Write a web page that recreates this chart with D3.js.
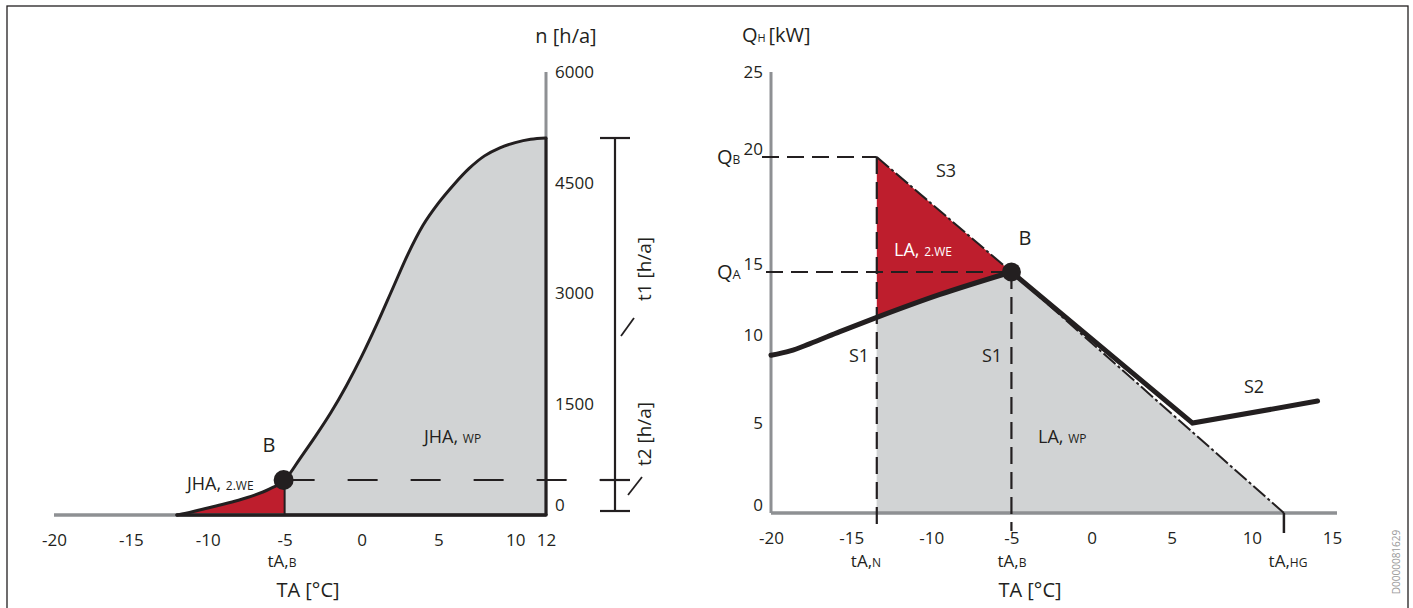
<!DOCTYPE html>
<html><head><meta charset="utf-8">
<script src="https://cdn.jsdelivr.net/npm/d3@7"></script>
<style>
html,body{margin:0;padding:0;background:#fff;}
svg{display:block;font-family:"Open Sans",sans-serif;}
</style></head><body>
<svg id="c" width="1413" height="608"></svg>
<script>
// ---------- data: left chart (annual hours curve) ----------
const hoursTicks = [0, 1500, 3000, 4500, 6000];
const tempTicksLeft = [-20, -15, -10, -5, 0, 5, 10, 12];
const curveTemp  = [-12, -11, -10, -9, -8, -7, -6, -5, -4, -3, -2, -1, 0, 1, 2, 3, 4, 5, 6, 7, 8, 9, 10, 11, 12];
const curveHours = [0, 45, 95, 145, 200, 265, 350, 474, 764, 1064, 1384, 1744, 2144, 2584, 3054, 3524, 3924, 4224, 4474, 4694, 4864, 4974, 5044, 5089, 5106];
const tAB = -5;        // bivalence temperature
const nB = 474;        // hours at bivalence point
const tLimit = 12;     // heating limit

// ---------- data: right chart (heat load) ----------
const loadTicks = [0, 5, 10, 15, 20, 25];
const tempTicksRight = [-20, -15, -10, -5, 0, 5, 10, 15];
const s1Temp = [-20, -18.8, -17.6, -15.7, -13.4, -9.5, -5];
const s1Load = [9.3, 9.55, 9.95, 10.8, 11.8, 13.4, 15];
const s3Temp = [-13.4, -5, 12];
const s3Load = [20, 15, 0];
const s2Temp = [-5, 6.3, 14.1];
const s2Load = [15, 5.45, 6.7];
const tAN = -13.4, tAHG = 12;
const QB = 20, QA = 15;

// ---------- styles ----------
const ink = "#231f20", grayFill = "#d1d3d4", red = "#be1e2d", axisGray = "#8e9093";
const svg = d3.select("#c");
const defs = svg.append("defs");

svg.append("rect").attr("x", 7).attr("y", 6).attr("width", 1401).attr("height", 700)
  .attr("fill", "none").attr("stroke", ink).attr("stroke-width", 1.3);

function label(g, x, y, parts, opts = {}) {
  const t = g.append("text").attr("x", x).attr("y", y)
    .attr("text-anchor", opts.anchor || "start")
    .attr("fill", opts.fill || ink)
    .attr("font-size", opts.size || 18);
  parts.forEach(p => {
    const s = t.append("tspan").text(p.t);
    if (p.s) s.attr("font-size", p.s);
  });
  return t;
}

// =================== LEFT CHART ===================
const L = svg.append("g");
const xL = d3.scaleLinear().domain([-20, 12]).range([54, 546]);
const yL = d3.scaleLinear().domain([0, 6000]).range([515, 72]);
const curvePts = curveTemp.map((t, i) => [t, curveHours[i]]);
const areaL = d3.area().x(d => xL(d[0])).y0(yL(0)).y1(d => yL(d[1])).curve(d3.curveMonotoneX);
const lineL = d3.line().x(d => xL(d[0])).y(d => yL(d[1])).curve(d3.curveMonotoneX);

defs.append("clipPath").attr("id", "clipRed").append("rect")
  .attr("x", xL(-12) - 5).attr("y", 0).attr("width", xL(tAB) - xL(-12) + 5).attr("height", 600);
defs.append("clipPath").attr("id", "clipGray").append("rect")
  .attr("x", xL(tAB)).attr("y", 0).attr("width", xL(tLimit) - xL(tAB)).attr("height", 600);

L.append("path").attr("d", areaL(curvePts)).attr("fill", red).attr("clip-path", "url(#clipRed)");
L.append("path").attr("d", areaL(curvePts)).attr("fill", grayFill).attr("clip-path", "url(#clipGray)");

// axes lines (gray)
L.append("line").attr("x1", xL(12)).attr("x2", xL(12)).attr("y1", yL(6000)).attr("y2", yL(0))
  .attr("stroke", axisGray).attr("stroke-width", 3);
L.append("line").attr("x1", xL(-20)).attr("x2", xL(12)).attr("y1", yL(0)).attr("y2", yL(0))
  .attr("stroke", axisGray).attr("stroke-width", 3.5);

// axis labels via d3 axes
const axLx = L.append("g").attr("transform", `translate(0,${yL(0)})`)
  .call(d3.axisBottom(xL).tickValues(tempTicksLeft).tickSize(0).tickPadding(19).tickFormat(d => String(d)));
axLx.select(".domain").remove();
axLx.selectAll("text").attr("font-size", 17).attr("fill", ink).attr("font-family", "Open Sans");

const axLy = L.append("g").attr("transform", `translate(${xL(12)},0)`)
  .call(d3.axisRight(yL).tickValues(hoursTicks).tickSize(0).tickPadding(9).tickFormat(d => String(d)));
axLy.select(".domain").remove();
axLy.selectAll("text").attr("font-size", 17).attr("fill", ink).attr("font-family", "Open Sans")
  .attr("transform", d => d === 0 ? "translate(0,-10)" : null);

// black outlines
const nMax = curveHours[curveHours.length - 1];
L.append("line").attr("x1", xL(-12)).attr("x2", xL(tLimit)).attr("y1", yL(0)).attr("y2", yL(0))
  .attr("stroke", ink).attr("stroke-width", 3.5).attr("stroke-linecap", "round");
L.append("line").attr("x1", xL(tLimit)).attr("x2", xL(tLimit)).attr("y1", yL(nMax)).attr("y2", yL(0))
  .attr("stroke", ink).attr("stroke-width", 3);
L.append("line").attr("x1", xL(tAB)).attr("x2", xL(tAB)).attr("y1", yL(nB)).attr("y2", yL(0))
  .attr("stroke", ink).attr("stroke-width", 2);
L.append("path").attr("d", lineL(curvePts)).attr("fill", "none").attr("stroke", ink)
  .attr("stroke-width", 3).attr("stroke-linecap", "round");

// t1 / t2 bar
const barX = 615;
L.append("line").attr("x1", xL(tAB)).attr("x2", barX + 14).attr("y1", yL(nB)).attr("y2", yL(nB))
  .attr("stroke", ink).attr("stroke-width", 2.2).attr("stroke-dasharray", "30,33");
L.append("line").attr("x1", barX).attr("x2", barX).attr("y1", yL(nMax)).attr("y2", yL(0) - 4)
  .attr("stroke", ink).attr("stroke-width", 2.2);
[yL(nMax), yL(nB), yL(0) - 4].forEach(y => {
  L.append("line").attr("x1", barX - 15).attr("x2", barX + 15).attr("y1", y).attr("y2", y)
    .attr("stroke", ink).attr("stroke-width", 2.2);
});
L.append("line").attr("x1", barX + 6).attr("y1", 336).attr("x2", barX + 19).attr("y2", 318)
  .attr("stroke", ink).attr("stroke-width", 1.8);
L.append("line").attr("x1", barX + 13).attr("y1", 495).attr("x2", barX + 27).attr("y2", 477)
  .attr("stroke", ink).attr("stroke-width", 1.8);
L.append("text").attr("transform", `translate(651,269) rotate(-90)`).attr("text-anchor", "middle")
  .attr("font-size", 19).attr("fill", ink).text("t1 [h/a]");
L.append("text").attr("transform", `translate(651,434) rotate(-90)`).attr("text-anchor", "middle")
  .attr("font-size", 19).attr("fill", ink).text("t2 [h/a]");

// B point
L.append("circle").attr("cx", xL(tAB) - 1).attr("cy", yL(nB)).attr("r", 10).attr("fill", ink);

// texts
label(L, 269, 452, [{t: "B"}], {anchor: "middle", size: 20});
label(L, 187, 490, [{t: "JHA, "}, {t: "2.WE", s: 12}], {size: 18});
label(L, 424, 443, [{t: "JHA, "}, {t: "WP", s: 12}], {size: 18});
label(L, 566, 43, [{t: "n [h/a]"}], {anchor: "middle", size: 20});
label(L, 282, 567, [{t: "tA,"}, {t: "B", s: 12}], {anchor: "middle", size: 17});
label(L, 308, 597, [{t: "TA [°C]"}], {anchor: "middle", size: 20});

// =================== RIGHT CHART ===================
const R = svg.append("g");
const xR = d3.scaleLinear().domain([-20, 15]).range([771, 1332]);
const yR = d3.scaleLinear().domain(loadTicks).range([513, 431, 343, 272, 157, 80]);
const s1Pts = s1Temp.map((t, i) => [t, s1Load[i]]);
const s2Pts = s2Temp.map((t, i) => [t, s2Load[i]]);
const s3Pts = s3Temp.map((t, i) => [t, s3Load[i]]);
const lineR = d3.line().x(d => xR(d[0])).y(d => yR(d[1]));
const lineRc = d3.line().x(d => xR(d[0])).y(d => yR(d[1])).curve(d3.curveMonotoneX);
const areaR = d3.area().x(d => xR(d[0])).y0(yR(0)).y1(d => yR(d[1])).curve(d3.curveMonotoneX);
const s1AtN = s1Load[s1Temp.indexOf(tAN)];

// red triangle
R.append("path").attr("d", lineR([[tAN, QB], [tAB, QA], [tAN, s1AtN]]) + "Z").attr("fill", red);
// gray region: chord polygon + area under S1 curve
R.append("path").attr("d", lineR([[tAN, s1AtN], [tAB, QA], [tAHG, 0], [tAN, 0]]) + "Z").attr("fill", grayFill);
defs.append("clipPath").attr("id", "clipS1").append("rect")
  .attr("x", xR(tAN)).attr("y", 0).attr("width", xR(tAB) - xR(tAN)).attr("height", 600);
R.append("path").attr("d", areaR(s1Pts)).attr("fill", grayFill).attr("clip-path", "url(#clipS1)");

// axes (gray)
R.append("line").attr("x1", xR(-20)).attr("x2", xR(-20)).attr("y1", yR(25) - 8).attr("y2", yR(0))
  .attr("stroke", axisGray).attr("stroke-width", 3);
R.append("line").attr("x1", xR(-20)).attr("x2", xR(15) + 5).attr("y1", yR(0)).attr("y2", yR(0))
  .attr("stroke", axisGray).attr("stroke-width", 3.5);

const axRx = R.append("g").attr("transform", `translate(0,${yR(0)})`)
  .call(d3.axisBottom(xR).tickValues(tempTicksRight).tickSize(0).tickPadding(19).tickFormat(d => String(d)));
axRx.select(".domain").remove();
axRx.selectAll("text").attr("font-size", 17).attr("fill", ink).attr("font-family", "Open Sans");

const axRy = R.append("g").attr("transform", `translate(${xR(-20)},0)`)
  .call(d3.axisLeft(yR).tickValues(loadTicks).tickSize(0).tickPadding(8).tickFormat(d => String(d)));
axRy.select(".domain").remove();
axRy.selectAll("text").attr("font-size", 17).attr("fill", ink).attr("font-family", "Open Sans")
  .attr("transform", "translate(0,-8)");

// dashed guide lines
const dash = sel => sel.attr("stroke", ink).attr("stroke-width", 2.2).attr("stroke-dasharray", "17,8").attr("fill", "none");
R.append("line").attr("x1", xR(-20) - 9).attr("x2", xR(tAN)).attr("y1", yR(QB)).attr("y2", yR(QB)).call(dash);
R.append("line").attr("x1", xR(-20) - 5).attr("x2", xR(tAB)).attr("y1", yR(QA)).attr("y2", yR(QA)).call(dash);
R.append("line").attr("x1", xR(tAN)).attr("x2", xR(tAN)).attr("y1", yR(QB)).attr("y2", yR(0) + 18).call(dash);
R.append("line").attr("x1", xR(tAB)).attr("x2", xR(tAB)).attr("y1", yR(QA)).attr("y2", yR(0) + 18).call(dash);

// tA,HG tick
R.append("line").attr("x1", xR(tAHG)).attr("x2", xR(tAHG)).attr("y1", yR(0)).attr("y2", yR(0) + 20)
  .attr("stroke", ink).attr("stroke-width", 2.5);

// S3 dash-dot
R.append("path").attr("d", lineR(s3Pts)).attr("fill", "none").attr("stroke", ink)
  .attr("stroke-width", 2).attr("stroke-dasharray", "16,3,3,3");

// S1 and S2 thick lines
R.append("path").attr("d", lineRc(s1Pts)).attr("fill", "none").attr("stroke", ink)
  .attr("stroke-width", 5).attr("stroke-linecap", "round");
R.append("path").attr("d", lineR(s2Pts)).attr("fill", "none").attr("stroke", ink)
  .attr("stroke-width", 5).attr("stroke-linecap", "round").attr("stroke-linejoin", "miter");

// B point
R.append("circle").attr("cx", xR(tAB)).attr("cy", yR(QA)).attr("r", 9.5).attr("fill", ink);

// texts
label(R, 742, 42, [{t: "Q"}, {t: "H ", s: 11}, {t: "[kW]"}], {size: 20});
label(R, 717, 164, [{t: "Q"}, {t: "B", s: 12}], {size: 20});
label(R, 717, 279, [{t: "Q"}, {t: "A", s: 13}], {size: 20});
label(R, 946, 177, [{t: "S3"}], {anchor: "middle", size: 18});
label(R, 1025, 245, [{t: "B"}], {anchor: "middle", size: 20});
label(R, 894, 256, [{t: "LA, "}, {t: "2.WE", s: 12}], {size: 18, fill: "#ffffff"});
label(R, 859, 362, [{t: "S1"}], {anchor: "middle", size: 18});
label(R, 992, 362, [{t: "S1"}], {anchor: "middle", size: 18});
label(R, 1254, 393, [{t: "S2"}], {anchor: "middle", size: 18});
label(R, 1038, 443, [{t: "LA, "}, {t: "WP", s: 12}], {size: 18});
label(R, 866, 567, [{t: "tA,"}, {t: "N", s: 12}], {anchor: "middle", size: 17});
label(R, 1012, 567, [{t: "tA,"}, {t: "B", s: 12}], {anchor: "middle", size: 17});
label(R, 1288, 567, [{t: "tA,"}, {t: "HG", s: 12}], {anchor: "middle", size: 17});
label(R, 1030, 597, [{t: "TA [°C]"}], {anchor: "middle", size: 20});

svg.append("text").attr("transform", "translate(1400,562) rotate(-90)").attr("text-anchor", "middle")
  .attr("font-size", 10).attr("fill", "#9a9a9a").text("D0000081629");
</script>
</body></html>
